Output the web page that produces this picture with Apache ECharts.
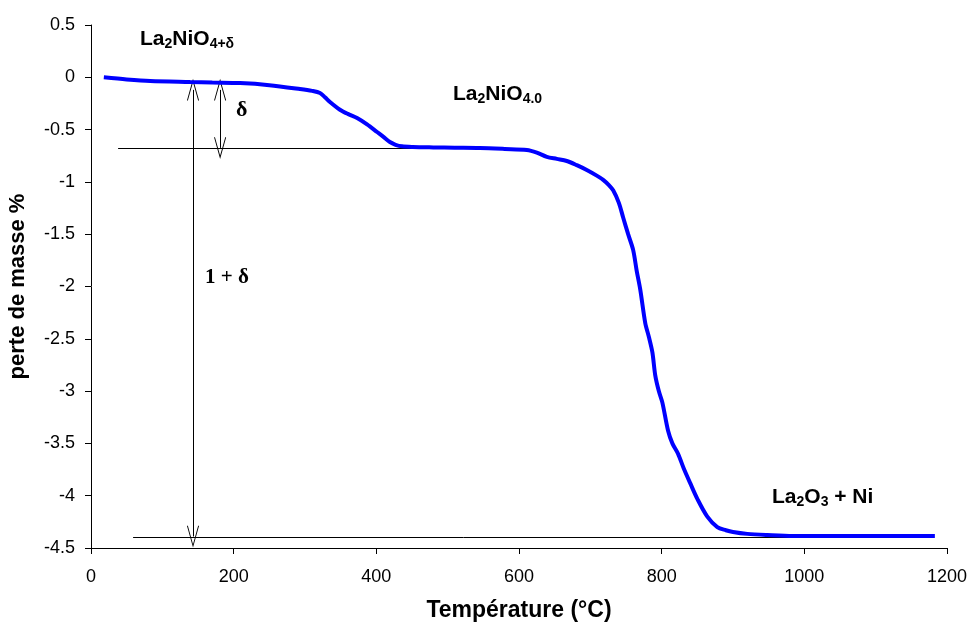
<!DOCTYPE html>
<html><head><meta charset="utf-8">
<script src="https://cdn.jsdelivr.net/npm/echarts@6/dist/echarts.min.js"></script>
<style>html,body{margin:0;padding:0;background:#fff}#c{width:968px;height:624px}</style>
</head><body><div id="c"></div>
<script>
// Data (temperature in °C, mass loss in %)
var temps = [18, 50, 83, 139, 170, 209, 250, 293, 310, 321, 328, 335, 349, 360, 373, 387, 401, 410, 419, 427, 436, 451, 480, 510, 545, 580, 611, 625, 639, 653, 667, 681, 695, 709, 718, 726, 732, 740, 746, 753, 760, 765, 770, 777, 782, 787, 791, 796, 801, 809, 815, 823, 831, 840, 850, 864, 878, 890, 900, 920, 948, 984, 1050, 1120, 1183];
var masses = [0.0, -0.02, -0.035, -0.045, -0.05, -0.055, -0.075, -0.112, -0.13, -0.15, -0.19, -0.236, -0.31, -0.35, -0.389, -0.45, -0.523, -0.57, -0.619, -0.645, -0.66, -0.666, -0.67, -0.673, -0.676, -0.685, -0.695, -0.72, -0.76, -0.78, -0.80, -0.84, -0.886, -0.94, -0.98, -1.03, -1.08, -1.2, -1.34, -1.5, -1.65, -1.85, -2.03, -2.35, -2.48, -2.63, -2.85, -3.0, -3.11, -3.38, -3.5, -3.6, -3.74, -3.88, -4.03, -4.2, -4.3, -4.33, -4.347, -4.365, -4.376, -4.385, -4.385, -4.385, -4.385];
// Annotation reference lines / arrows (data coordinates)
var upperRefLine = [[38, -0.679], [590, -0.679]];
var lowerRefLine = [[59, -4.398], [985, -4.398]];
var bigArrow = [[143, -0.12], [143, -4.39]];
var deltaArrow = [[181, -0.12], [181, -0.675]];
var xTicks = [0, 200, 400, 600, 800, 1000, 1200];
var yTicks = [0.5, 0, -0.5, -1, -1.5, -2, -2.5, -3, -3.5, -4, -4.5];

var chart = echarts.init(document.getElementById('c'));
var FONT = '"Liberation Sans", Arial, sans-serif';
var SERIF = '"Liberation Serif", "DejaVu Serif", serif';
var vArrow = 'path://M0,0 L6,14 L5.2,14.4 L0,2.2 L-5.2,14.4 L-6,14 Z';

function pair(a){ return a.map(function(p){ return {coord: p}; }); }
function arrowPair(a){ return a.map(function(p){ return {coord: p, symbol: vArrow, symbolSize: [12, 22]}; }); }

var curve = temps.map(function(t, i){ return [t, masses[i]]; });

var M = {fontSize: 21, fontWeight: 'bold', fontFamily: FONT, fill: '#000'};
var S = {fontSize: 14, fontWeight: 'bold', fontFamily: FONT, fill: '#000', padding: [10, 0, 0, 0]};
chart.setOption({
  animation: false,
  grid: {left: 91, right: 21, top: 25, bottom: 76, containLabel: false, outerBoundsMode: 'none'},
  xAxis: {
    type: 'value', min: 0, max: 1200, interval: 200,
    name: 'Température (°C)', nameLocation: 'middle', nameGap: 51,
    nameTextStyle: {fontFamily: FONT, fontSize: 23, fontWeight: 'bold', color: '#000'},
    axisLine: {onZero: false, lineStyle: {color: '#000', width: 1}},
    axisTick: {show: true, inside: false, length: 6, lineStyle: {color: '#000'}},
    axisLabel: {fontFamily: FONT, fontSize: 18, color: '#000', margin: 20, formatter: function(v){ return String(v); }},
    splitLine: {show: false}
  },
  yAxis: {
    type: 'value', min: -4.5, max: 0.5, interval: 0.5,
    name: 'perte de masse %', nameLocation: 'middle', nameGap: 62, nameRotate: 90,
    nameTextStyle: {fontFamily: FONT, fontSize: 22, fontWeight: 'bold', color: '#000'},
    axisLine: {show: true, onZero: false, lineStyle: {color: '#000', width: 1}},
    axisTick: {show: true, length: 6, lineStyle: {color: '#000'}},
    axisLabel: {fontFamily: FONT, fontSize: 18, color: '#000', margin: 16, formatter: function(v){ return String(v); }},
    splitLine: {show: false}
  },
  series: [
    {
      type: 'line', data: curve, showSymbol: false, smooth: 0.3,
      lineStyle: {color: '#0000ff', width: 4}, z: 5,
      markLine: {
        silent: true, animation: false,
        label: {show: false},
        lineStyle: {color: '#000', width: 1, type: 'solid'},
        symbol: ['none', 'none'],
        data: [pair(upperRefLine), pair(lowerRefLine), arrowPair(bigArrow), arrowPair(deltaArrow)]
      }
    }
  ],
  graphic: [
    {type: 'text', left: 140, top: 29, style: {text: '{m|La}{s|2}{m|NiO}{s|4+δ}', rich: {m: M, s: S}}},
    {type: 'text', left: 453, top: 84, style: {text: '{m|La}{s|2}{m|NiO}{s|4.0}', rich: {m: M, s: S}}},
    {type: 'text', left: 772, top: 487, style: {text: '{m|La}{s|2}{m|O}{s|3}{m| + Ni}', rich: {m: M, s: S}}},
    {type: 'text', left: 236, top: 99, style: {text: 'δ', font: 'bold 22px ' + SERIF, fill: '#000'}},
    {type: 'text', left: 205, top: 267, style: {text: '1 + δ', font: 'bold 21px ' + SERIF, fill: '#000'}}
  ]
});
</script>
</body></html>
